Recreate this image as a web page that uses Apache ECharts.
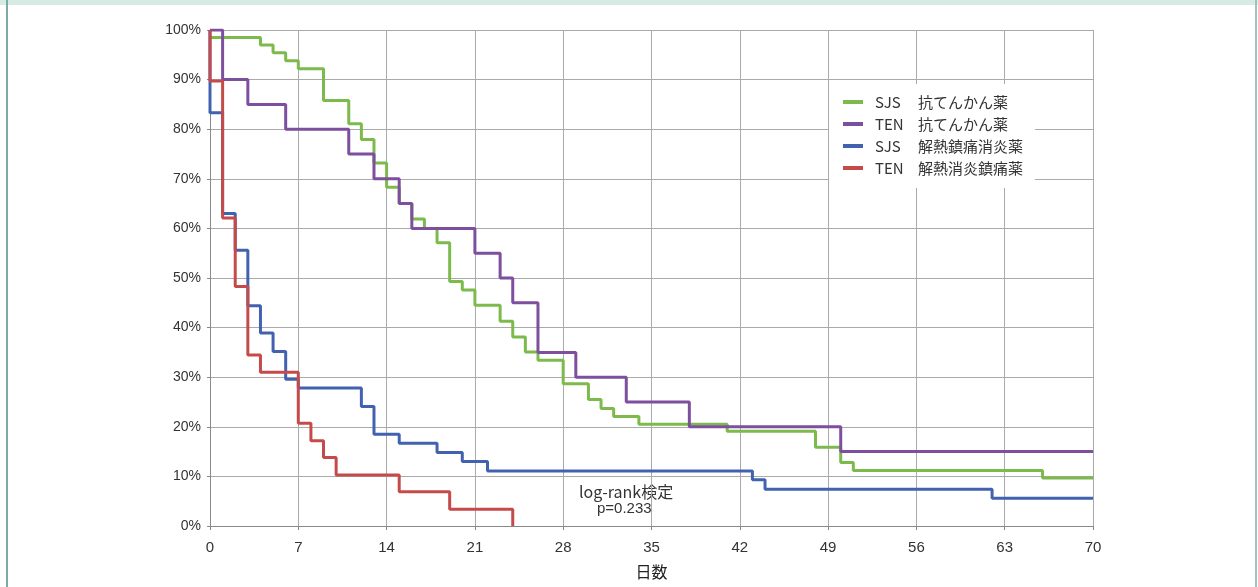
<!DOCTYPE html>
<html>
<head>
<meta charset="utf-8">
<script src="https://cdn.jsdelivr.net/npm/echarts@6/dist/echarts.min.js"></script>
<style>
  html, body { margin: 0; padding: 0; background: #fff; }
  #frame { position: relative; width: 1258px; height: 587px; overflow: hidden; }
  #band { position: absolute; left: 0; top: 0; width: 1258px; height: 5px; background: #d6ebe3; }
  #lb { position: absolute; left: 6px; top: 0; width: 2px; height: 587px; background: #7fa9a6; }
  #rb { position: absolute; left: 1255px; top: 0; width: 2px; height: 587px; background: #9fc4bd; }
  #chart { position: absolute; left: 0; top: 0; width: 1258px; height: 587px; }
</style>
</head>
<body>
<div id="frame">
  <div id="band"></div>
  <div id="lb"></div>
  <div id="rb"></div>
  <div id="chart"></div>
</div>
<script>
// ---- data (days, survival %) ----
const seriesNames = ['SJS 抗てんかん薬', 'TEN 抗てんかん薬', 'SJS 解熱鎮痛消炎薬', 'TEN 解熱消炎鎮痛薬'];
const xTicks = [0, 7, 14, 21, 28, 35, 42, 49, 56, 63, 70];
const yTicks = [0, 10, 20, 30, 40, 50, 60, 70, 80, 90, 100];

const sjsAedDays = [0, 4, 5, 6, 7, 9, 11, 12, 13, 14, 15, 16, 17, 18, 19, 20, 21, 23, 24, 25, 26, 28, 30, 31, 32, 34, 41, 48, 50, 51, 66, 70];
const sjsAedSurv = [98.5, 97.0, 95.4, 93.8, 92.2, 85.8, 81.1, 77.9, 73.2, 68.3, 65.0, 61.9, 60.0, 57.1, 49.3, 47.6, 44.5, 41.3, 38.1, 35.1, 33.4, 28.7, 25.5, 23.7, 22.1, 20.5, 19.1, 15.9, 12.8, 11.2, 9.7, 9.7];

const tenAedDays = [0, 1, 3, 6, 11, 13, 15, 16, 21, 23, 24, 26, 29, 33, 38, 50, 70];
const tenAedSurv = [100, 90, 85, 80, 75, 70, 65, 60, 55, 50, 45, 35, 30, 25, 20, 15, 15];

const sjsNsaidDays = [0, 0, 1, 2, 3, 4, 5, 6, 7, 12, 13, 15, 18, 20, 22, 43, 44, 62, 70];
const sjsNsaidSurv = [100, 83.3, 63.0, 55.6, 44.4, 38.9, 35.2, 29.6, 27.8, 24.1, 18.5, 16.7, 14.8, 13.0, 11.1, 9.3, 7.4, 5.6, 5.6];

const tenNsaidDays = [0, 0, 1, 2, 3, 4, 7, 8, 9, 10, 15, 19, 24];
const tenNsaidSurv = [100, 89.7, 62.1, 48.3, 34.5, 31.0, 20.7, 17.2, 13.8, 10.3, 6.9, 3.4, 0];

const colors = ['#7dba4c', '#7d4f9e', '#4262b0', '#c54b4b'];
const annotation = ['log-rank検定', 'p=0.233'];

const zip = (a, b) => a.map((v, i) => [v, b[i]]);
const curves = [
  zip(sjsAedDays, sjsAedSurv),
  zip(tenAedDays, tenAedSurv),
  zip(sjsNsaidDays, sjsNsaidSurv),
  zip(tenNsaidDays, tenNsaidSurv)
];

const FONT = '"Liberation Sans", "Noto Sans CJK JP", sans-serif';
const JP = '"Noto Sans CJK JP", sans-serif';
const chart = echarts.init(document.getElementById('chart'), null, { renderer: 'canvas' });

chart.setOption({
  animation: false,
  backgroundColor: 'transparent',
  color: colors,
  grid: { left: 210, right: 165, top: 30, bottom: 61 },
  xAxis: {
    type: 'value', min: xTicks[0], max: xTicks[xTicks.length - 1], interval: 7,
    name: '日数', nameLocation: 'middle', nameGap: 38,
    nameTextStyle: { fontSize: 16, color: '#222', fontFamily: JP },
    axisLine: { lineStyle: { color: '#888', width: 1 } },
    axisTick: { show: true, length: 4, lineStyle: { color: '#888' } },
    axisLabel: { fontSize: 15, color: '#333', margin: 14, fontFamily: FONT },
    splitLine: { show: true, lineStyle: { color: '#aaa', width: 1 } }
  },
  yAxis: {
    type: 'value', min: yTicks[0], max: yTicks[yTicks.length - 1], interval: 10,
    axisLine: { show: true, lineStyle: { color: '#888', width: 1 } },
    axisTick: { show: true, length: 3, lineStyle: { color: '#888' } },
    axisLabel: { fontSize: 14, color: '#333', margin: 9, formatter: '{value}%', fontFamily: FONT },
    splitLine: { show: true, lineStyle: { color: '#aaa', width: 1 } }
  },
  legend: {
    orient: 'vertical', left: 829, top: 84,
    backgroundColor: '#fff',
    padding: [7, 12, 9, 14],
    itemGap: 0, itemWidth: 20, itemHeight: 4, icon: 'rect',
    data: seriesNames,
    formatter: function (name) {
      const parts = name.split(' ');
      return '{a|' + parts[0] + '}{b|' + parts[1] + '}';
    },
    textStyle: {
      color: '#333', fontSize: 15, lineHeight: 22, fontFamily: JP,
      rich: {
        a: { fontSize: 15, lineHeight: 22, width: 43, padding: [0, 0, 0, 7], fontFamily: JP, color: '#333' },
        b: { fontSize: 15, lineHeight: 22, fontFamily: JP, color: '#333' }
      }
    }
  },
  graphic: [
    { type: 'text', left: 579, top: 484, style: { text: annotation[0], font: '16px "Noto Sans CJK JP", sans-serif', fill: '#333' } },
    { type: 'text', left: 597, top: 501, style: { text: annotation[1], font: '15px "Liberation Sans", sans-serif', fill: '#333' } }
  ],
  series: curves.map((d, i) => ({
    name: seriesNames[i],
    type: 'line',
    step: 'end',
    data: d,
    showSymbol: false,
    symbol: 'none',
    lineStyle: { width: 3, color: colors[i] },
    itemStyle: { color: colors[i] },
    z: 2 + i
  }))
});
</script>
</body>
</html>
